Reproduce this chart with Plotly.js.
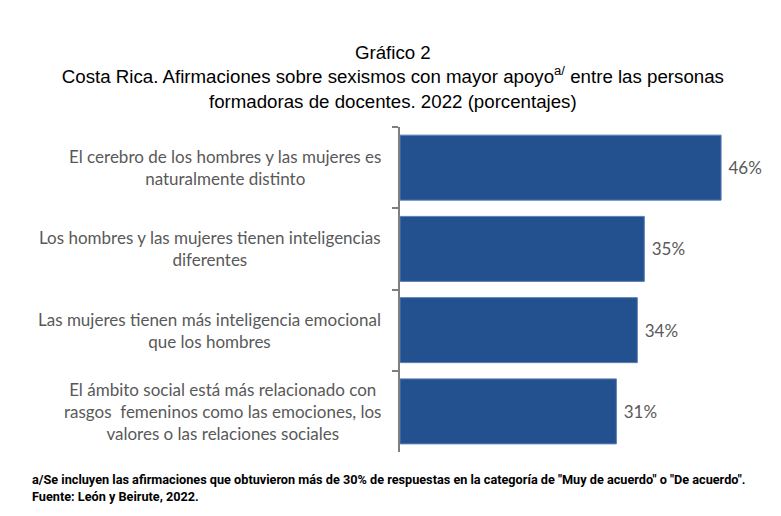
<!DOCTYPE html>
<html>
<head>
<meta charset="utf-8">
<script src="https://cdn.plot.ly/plotly-3.0.1.min.js"></script>
<style>
  html, body { margin: 0; padding: 0; background: #fff; }
  #chart { width: 781px; height: 516px; }
</style>
</head>
<body>
<div id="chart"></div>
<script>
var categories = [
  'El cerebro de los hombres y las mujeres es<br>naturalmente distinto',
  'Los hombres y las mujeres tienen inteligencias<br>diferentes',
  'Las mujeres tienen más inteligencia emocional<br>que los hombres',
  'El ámbito social está más relacionado con<br>rasgos  femeninos como las emociones, los<br>valores o las relaciones sociales'
];
var values = [46, 35, 34, 31];

var titleText = 'Gráfico 2<br>Costa Rica. Afirmaciones sobre sexismos con mayor apoyo<sup>a/</sup> entre las personas<br>formadoras de docentes. 2022 (porcentajes)';
var notes = [
  'a/Se incluyen las afirmaciones que obtuvieron más de 30% de respuestas en la categoría de "Muy de acuerdo" o "De acuerdo".',
  'Fuente: León y Beirute, 2022.'
];

var labelFont = { family: 'Lato, "Open Sans", sans-serif', size: 17, color: '#595959' };

var trace = {
  type: 'bar',
  orientation: 'h',
  y: categories,
  x: values,
  marker: { color: '#23508f', line: { color: '#5b7fb5', width: 1 } },
  texttemplate: '\u00a0%{x}%',
  textposition: 'outside',
  textfont: labelFont,
  cliponaxis: false,
  hoverinfo: 'skip'
};

var annotations = categories.map(function (c) {
  return {
    text: c, xref: 'paper', yref: 'y', x: -0.049, y: c,
    xanchor: 'right', yanchor: 'middle', align: 'center',
    showarrow: false, font: labelFont
  };
});
notes.forEach(function (n, i) {
  annotations.push({
    text: n, xref: 'paper', yref: 'paper', x: -1.06, y: -0.086 - i * 0.05,
    xanchor: 'left', yanchor: 'middle', align: 'left', showarrow: false,
    font: { family: 'Roboto, sans-serif', size: 12.7, color: '#000', weight: 'bold' }
  });
});

var layout = {
  width: 781, height: 516,
  margin: { l: 400, r: 32, t: 127, b: 64 },
  paper_bgcolor: '#fff', plot_bgcolor: '#fff',
  showlegend: false,
  bargap: 0.2,
  title: {
    text: titleText, x: 0.503, xanchor: 'center',
    y: 1 - 59 / 516, yanchor: 'top', yref: 'container',
    font: { family: '"Liberation Sans", Arial, sans-serif', size: 18.7, color: '#000' }
  },
  xaxis: { range: [0, 50], visible: false, fixedrange: true },
  yaxis: {
    autorange: 'reversed', showticklabels: false,
    showline: true, linecolor: '#7f7f7f', linewidth: 2,
    ticks: 'outside', tickson: 'boundaries', ticklen: 6,
    tickcolor: '#7f7f7f', tickwidth: 2, showgrid: false, zeroline: false
  },
  annotations: annotations
};

Plotly.newPlot('chart', [trace], layout, { displayModeBar: false, staticPlot: true });
</script>
</body>
</html>
